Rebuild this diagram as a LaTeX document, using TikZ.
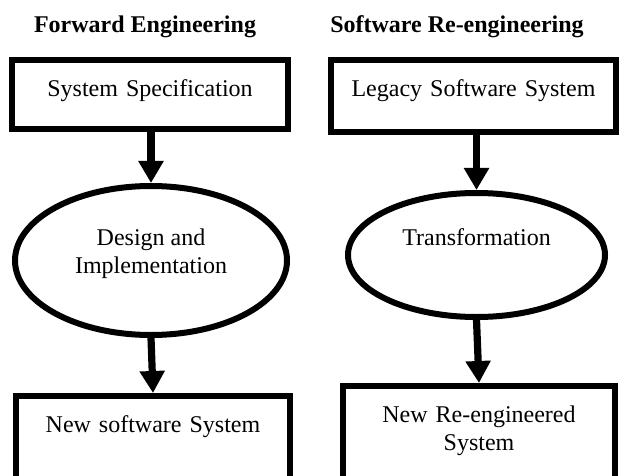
\documentclass[tikz,border=0pt]{standalone}
\usepackage{fontspec}
\setmainfont{Liberation Serif}
\usepackage{tikz}
\usetikzlibrary{arrows.meta, shapes.geometric}

\begin{document}
\begin{tikzpicture}[x=0.5pt, y=-0.5pt,
  every node/.style={font=\fontsize{12pt}{14pt}\selectfont},
  title/.style={font=\fontsize{12pt}{14pt}\selectfont\bfseries, anchor=base, inner sep=0pt},
  stagebox/.style={draw, line width=3pt, anchor=north, inner sep=0pt, align=center},
  stageoval/.style={draw, ellipse, line width=3pt, inner sep=0pt, align=center},
  flow/.style={line width=3.6pt, -{Triangle[width=12pt,length=11pt]}}]
\useasboundingbox (0,0) rectangle (619,475);
\clip (0,0) rectangle (619,475);
\node[title] (fwd) at (145,33) {Forward Engineering};
\node[title] (reeng) at (457,33) {Software Re-engineering};
\node[stagebox, text width=138pt, text height=18.5pt, text depth=16pt] (spec) at (150,57) {System Specification};
\node[stageoval, minimum width=136pt, minimum height=74.5pt, text height=24pt, text depth=11.5pt] (design) at (151,260.5) {Design and\\Implementation};
\node[stagebox, text width=137pt, text height=18pt, text depth=32pt] (newsys) at (153,393) {New software System};
\node[stagebox, text width=142.5pt, text height=18.5pt, text depth=17.5pt] (legacy) at (473.5,57) {Legacy Software System};
\node[stageoval, minimum width=128.5pt, minimum height=62pt, text height=9pt, text depth=19pt] (transform) at (476.5,255) {Transformation};
\node[stagebox, text width=136pt, text height=18pt, text depth=36pt] (reengsys) at (479,383) {New Re-engineered\\System};
\draw[flow] (spec.south -| design.north) -- (design.north);
\draw[flow] (design.south) -- (newsys.north);
\draw[flow] (legacy.south -| transform.north) -- (transform.north);
\draw[flow] (transform.south) -- (reengsys.north);
\end{tikzpicture}
\end{document}
